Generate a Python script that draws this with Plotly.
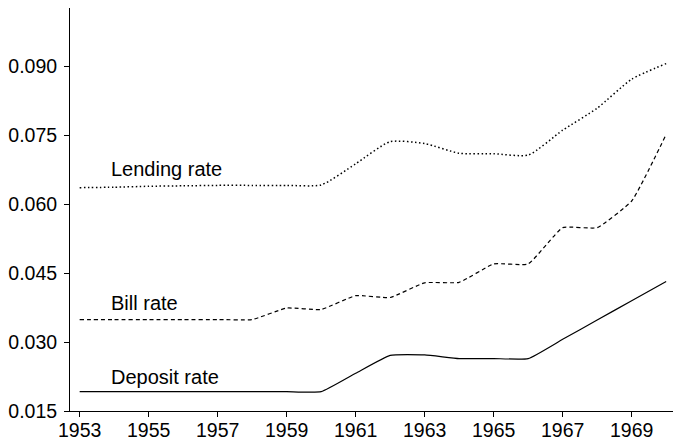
import plotly.graph_objects as go

years = list(range(1953, 1971))

lending = [0.0636, 0.0637, 0.0639, 0.0640, 0.0641, 0.0641, 0.0641, 0.0642,
           0.0688, 0.0736, 0.0732, 0.0711, 0.0710, 0.0707, 0.0761, 0.0809,
           0.0872, 0.0906]
bill = [0.0349, 0.0349, 0.0349, 0.0349, 0.0349, 0.0349, 0.0374, 0.0371,
        0.0401, 0.0397, 0.0429, 0.0430, 0.0470, 0.0470, 0.0549, 0.0549,
        0.0607, 0.0752]
deposit = [0.0192, 0.0192, 0.0192, 0.0192, 0.0192, 0.0192, 0.0192, 0.0192,
           0.0232, 0.0271, 0.0272, 0.0264, 0.0264, 0.0264, 0.0306, 0.0348,
           0.0390, 0.0432]

xticks = list(range(1953, 1970, 2))
yticks = [0.015, 0.030, 0.045, 0.060, 0.075, 0.090]

font = dict(family="Liberation Sans, Arial, sans-serif", size=20, color="black")
tickfont = dict(family="Liberation Sans, Arial, sans-serif", size=19.5, color="black")

fig = go.Figure()
fig.add_trace(go.Scatter(x=years, y=lending, mode="lines",
                         line=dict(color="black", width=1.5, dash="1.5px,2.5px",
                                   shape="spline", smoothing=0.6)))
fig.add_trace(go.Scatter(x=years, y=bill, mode="lines",
                         line=dict(color="black", width=1.2, dash="4px,3px",
                                   shape="spline", smoothing=0.4)))
fig.add_trace(go.Scatter(x=years, y=deposit, mode="lines",
                         line=dict(color="black", width=1.2,
                                   shape="spline", smoothing=0.4)))

# series labels
for txt, yv in [("Lending rate", 0.0677), ("Bill rate", 0.0384), ("Deposit rate", 0.0225)]:
    fig.add_annotation(x=1953.85, y=yv, text=txt, showarrow=False,
                       xanchor="left", yanchor="middle", font=font)

# page body adds an 8px margin, so the figure is a little smaller than the window
fig.update_layout(
    width=673, height=434,
    margin=dict(l=62, r=0, t=0, b=31),
    paper_bgcolor="white", plot_bgcolor="white",
    showlegend=False,
    font=font,
)
fig.update_xaxes(range=[1952.72, 1970.43], tickvals=xticks, showgrid=False,
                 zeroline=False, showline=True, linecolor="black", linewidth=1,
                 ticks="outside", ticklen=5, tickcolor="black", tickfont=tickfont,
                 automargin=False, ticklabelstandoff=-3)
fig.update_yaxes(range=[0.015, 0.1027], tickvals=yticks, tickformat=".3f",
                 showgrid=False, zeroline=False, showline=True, linecolor="black",
                 linewidth=1, ticks="outside", ticklen=5, tickcolor="black",
                 tickfont=tickfont, ticklabelstandoff=3, automargin=False)

fig.write_html("out.html")
